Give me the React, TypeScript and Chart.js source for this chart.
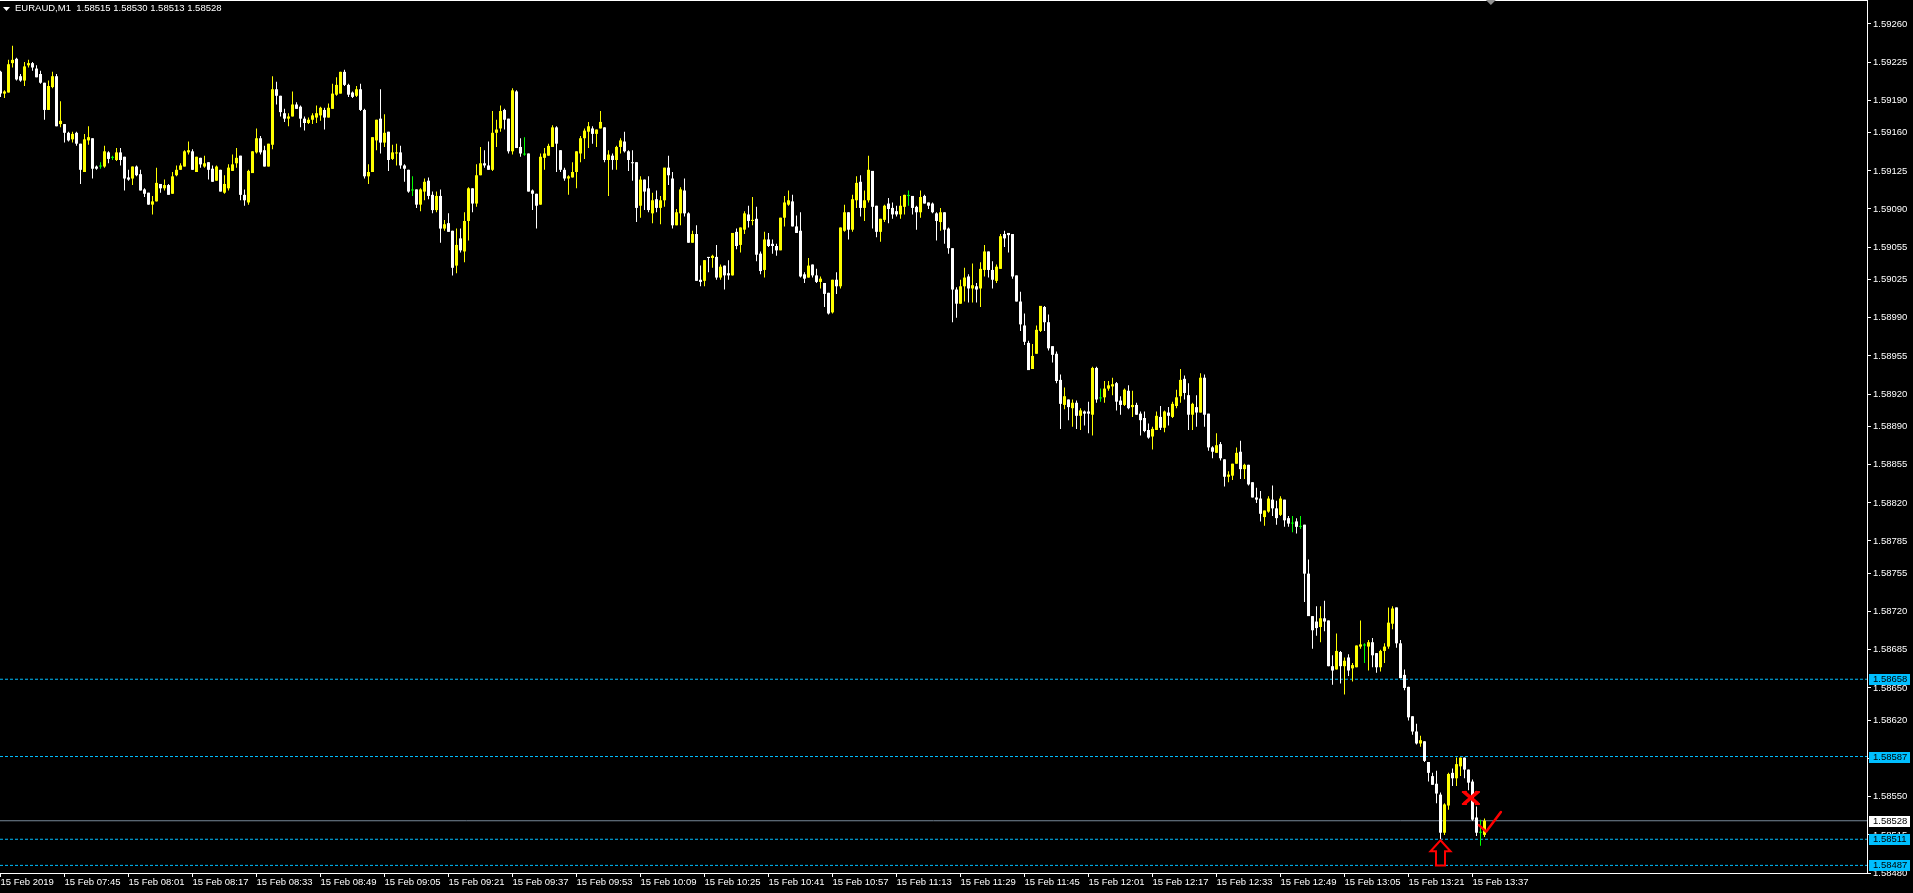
import React, { useEffect, useRef } from "react";
import { Chart, registerables } from "chart.js";

Chart.register(...registerables);

// ---------- DATA (prices in units of 0.00001 above 1.00000, e.g. 59216 = 1.59216) ----------
const symbolName = "EURAUD,M1";

const opens = [
  59216,59196,59197,59224,59228,59212,59208,59222,59224,59219,
  59214,59206,59181,59202,59212,59168,59168,59160,59154,59160,
  59150,59124,59153,59155,59129,59129,59129,59142,59137,59135,
  59142,59138,59119,59118,59129,59122,59108,59105,59094,59097,
  59113,59109,59112,59104,59121,59126,59129,59142,59143,59124,
  59137,59129,59133,59127,59116,59126,59105,59109,59125,59132,
  59139,59103,59096,59123,59142,59155,59144,59129,59149,59200,
  59194,59178,59173,59175,59186,59184,59173,59169,59172,59174,
  59176,59181,59174,59182,59195,59196,59216,59204,59197,59194,
  59200,59181,59120,59124,59153,59173,59151,59161,59136,59141,
  59142,59130,59126,59107,59108,59094,59106,59116,59103,59089,
  59102,59072,59077,59070,59038,59063,59051,59079,59109,59095,
  59121,59132,59130,59126,59160,59164,59181,59173,59143,59198,
  59147,59140,59141,59107,59104,59094,59137,59139,59147,59165,
  59144,59126,59118,59119,59124,59141,59155,59161,59164,59159,
  59164,59165,59135,59139,59135,59147,59152,59143,59133,59133,
  59093,59117,59109,59086,59099,59091,59098,59128,59118,59075,
  59086,59107,59086,59059,59067,59025,59024,59046,59045,59046,
  59027,59038,59031,59029,59069,59057,59071,59085,59079,59081,
  59049,59034,59062,59058,59056,59052,59082,59094,59097,59074,
  59070,59030,59027,59039,59029,59023,59022,59013,58995,59025,
  59019,59070,59087,59071,59098,59115,59091,59098,59125,59093,
  59069,59080,59095,59091,59088,59085,59092,59102,59102,59092,
  59087,59102,59096,59095,59086,59078,59087,59072,59054,59016,
  59003,59019,59028,59017,59019,59017,59034,59051,59034,59024,
  59035,59067,59068,59067,59029,59005,58983,58967,58943,58957,
  58978,59000,58986,58964,58957,58933,58910,58915,58907,58912,
  58900,58904,58904,58901,58944,58916,58917,58925,58927,58930,
  58914,58910,58923,58908,58910,58902,58898,58887,58881,58887,
  58899,58889,58903,58899,58909,58918,58934,58919,58901,58908,
  58903,58935,58902,58871,58866,58874,58860,58844,58845,58856,
  58867,58851,58855,58839,58825,58824,58807,58812,58823,58815,
  58809,58823,58806,58801,58803,58798,58800,58755,58716,58711,
  58706,58714,58712,58670,58667,58683,58670,58678,58668,58669,
  58688,58689,58688,58692,58682,58669,58684,58688,58709,58724,
  58691,58662,58651,58624,58610,58599,58601,58582,58569,58562,
  58552,58517,58542,58572,58567,58578,58586,58575,58564,58531,
  58517,58515,
];

const highs = [
  59217,59199,59227,59240,59229,59214,59225,59227,59225,59222,
  59217,59206,59208,59216,59214,59189,59168,59161,59161,59161,
  59150,59159,59166,59155,59130,59133,59148,59143,59139,59146,
  59146,59138,59126,59129,59130,59126,59109,59105,59102,59128,
  59113,59117,59113,59124,59130,59132,59144,59152,59145,59138,
  59137,59139,59133,59130,59130,59126,59121,59131,59140,59146,
  59139,59108,59126,59143,59164,59157,59148,59150,59212,59207,
  59194,59182,59178,59198,59188,59185,59175,59174,59178,59185,
  59184,59183,59187,59205,59211,59216,59218,59205,59198,59203,
  59205,59182,59131,59156,59172,59200,59177,59161,59149,59150,
  59148,59131,59126,59120,59108,59109,59118,59119,59106,59106,
  59108,59080,59086,59070,59072,59072,59087,59110,59109,59131,
  59147,59144,59152,59180,59172,59185,59182,59173,59201,59199,
  59155,59156,59141,59108,59104,59141,59146,59150,59167,59166,
  59144,59128,59121,59133,59143,59157,59164,59170,59166,59163,
  59180,59165,59144,59141,59148,59155,59161,59144,59144,59133,
  59120,59117,59120,59105,59107,59102,59128,59139,59124,59090,
  59110,59118,59087,59070,59075,59038,59043,59046,59048,59057,
  59039,59038,59043,59068,59072,59073,59088,59093,59101,59092,
  59051,59069,59068,59062,59058,59082,59102,59107,59103,59084,
  59087,59032,59045,59039,59035,59028,59022,59013,59025,59032,
  59073,59094,59087,59103,59120,59121,59107,59139,59125,59093,
  59081,59094,59100,59096,59093,59102,59103,59107,59102,59093,
  59107,59103,59096,59096,59087,59091,59087,59073,59054,59018,
  59025,59036,59030,59040,59022,59041,59057,59051,59042,59039,
  59067,59070,59068,59067,59029,59014,58994,58969,58966,58983,
  59001,59001,58993,58964,58959,58938,58926,58915,58915,58914,
  58907,58905,58913,58945,58945,58925,58932,58932,58935,58931,
  58918,58925,58928,58923,58912,58904,58904,58893,58890,58904,
  58909,58905,58908,58913,58924,58943,58937,58930,58912,58919,
  58939,58938,58902,58872,58884,58876,58860,58849,58856,58871,
  58877,58856,58855,58839,58834,58831,58813,58826,58836,58822,
  58826,58823,58808,58808,58806,58808,58800,58768,58716,58725,
  58725,58730,58712,58680,58700,58684,58678,58681,58673,58689,
  58712,58691,58694,58696,58682,58685,58691,58724,58725,58724,
  58694,58667,58651,58624,58617,58606,58601,58582,58572,58574,
  58554,58544,58572,58576,58586,58586,58586,58575,58566,58541,
  58529,58530,
];

const lows = [
  59193,59192,59197,59220,59208,59207,59203,59220,59217,59211,
  59205,59172,59181,59201,59166,59165,59151,59152,59151,59148,
  59113,59124,59149,59118,59126,59127,59128,59132,59135,59134,
  59130,59107,59116,59112,59120,59107,59101,59094,59085,59097,
  59105,59107,59103,59104,59120,59126,59129,59140,59126,59124,
  59128,59128,59117,59115,59116,59106,59104,59107,59125,59128,
  59098,59093,59094,59123,59141,59140,59129,59129,59145,59186,
  59175,59170,59166,59175,59182,59165,59162,59168,59168,59169,
  59171,59163,59174,59182,59194,59196,59203,59193,59192,59193,
  59180,59118,59113,59124,59144,59141,59147,59125,59135,59130,
  59127,59115,59105,59102,59091,59088,59098,59099,59086,59087,
  59059,59070,59069,59029,59031,59050,59041,59061,59087,59092,
  59121,59128,59126,59125,59147,59161,59163,59141,59140,59146,
  59138,59139,59106,59089,59072,59094,59126,59139,59147,59124,
  59124,59116,59103,59119,59109,59133,59136,59146,59150,59147,
  59164,59133,59102,59126,59126,59141,59142,59125,59116,59078,
  59082,59089,59087,59077,59087,59076,59092,59112,59072,59075,
  59075,59083,59059,59059,59024,59019,59019,59032,59036,59025,
  59025,59016,59025,59029,59053,59050,59067,59073,59075,59042,
  59030,59027,59055,59049,59047,59052,59074,59093,59074,59068,
  59027,59022,59027,59027,59022,59017,59000,58993,58994,59012,
  59017,59069,59062,59069,59091,59083,59079,59096,59072,59064,
  59060,59078,59077,59081,59083,59081,59085,59093,59085,59071,
  59082,59095,59090,59086,59061,59070,59058,59049,58986,58990,
  59003,59005,59004,59004,59004,59000,59028,59027,59017,59022,
  59035,59055,59050,59026,59005,58978,58965,58942,58943,58957,
  58977,58978,58960,58949,58930,58888,58906,58896,58890,58888,
  58887,58891,58884,58882,58912,58913,58912,58923,58919,58905,
  58901,58909,58906,58899,58901,58882,58885,58879,58869,58887,
  58887,58885,58891,58898,58907,58912,58915,58887,58887,58890,
  58903,58890,58868,58861,58866,58859,58835,58839,58841,58856,
  58842,58842,58836,58825,58820,58803,58799,58811,58808,58800,
  58808,58798,58798,58793,58792,58796,58729,58716,58686,58698,
  58692,58702,58670,58653,58667,58654,58644,58661,58656,58669,
  58686,58673,58666,58669,58664,58665,58673,58686,58704,58687,
  58659,58648,58620,58607,58598,58596,58582,58564,58561,58544,
  58511,58515,58538,58560,58560,58569,58567,58556,58528,58514,
  58505,58513,
];

const closes = [
  59196,59198,59223,59227,59209,59208,59221,59224,59220,59211,
  59206,59181,59203,59212,59166,59171,59160,59153,59159,59150,
  59126,59154,59156,59127,59127,59129,59143,59136,59137,59142,
  59135,59118,59117,59129,59121,59107,59104,59094,59097,59114,
  59109,59112,59103,59120,59126,59130,59143,59144,59126,59138,
  59131,59132,59126,59115,59129,59106,59113,59128,59131,59137,
  59103,59098,59125,59143,59155,59142,59129,59150,59200,59194,
  59179,59173,59175,59186,59182,59173,59169,59172,59176,59178,
  59183,59174,59183,59196,59204,59216,59204,59195,59193,59200,
  59181,59120,59124,59156,59172,59151,59160,59135,59142,59142,
  59130,59127,59106,59107,59094,59108,59115,59102,59089,59102,
  59072,59076,59069,59036,59057,59052,59079,59109,59095,59121,
  59132,59130,59126,59160,59163,59180,59172,59143,59199,59146,
  59141,59140,59106,59104,59093,59138,59141,59148,59165,59150,
  59126,59118,59120,59124,59143,59155,59162,59166,59159,59163,
  59170,59135,59140,59135,59147,59153,59143,59135,59132,59091,
  59117,59106,59089,59098,59091,59098,59128,59121,59075,59087,
  59108,59086,59059,59067,59024,59023,59043,59045,59047,59027,
  59037,59029,59029,59068,59056,59073,59086,59079,59080,59048,
  59033,59062,59056,59056,59052,59082,59096,59098,59074,59068,
  59028,59026,59038,59029,59023,59026,59012,58994,59025,59019,
  59073,59087,59071,59099,59114,59091,59098,59126,59092,59069,
  59081,59093,59090,59085,59085,59093,59103,59102,59091,59087,
  59101,59095,59093,59087,59079,59087,59071,59054,59016,59003,
  59019,59027,59017,59020,59016,59035,59051,59034,59025,59037,
  59065,59063,59066,59028,59005,58984,58968,58942,58955,58979,
  59001,58986,58962,58956,58932,58911,58918,58908,58912,58900,
  58905,58902,58902,58944,58915,58916,58925,58928,58929,58913,
  58910,58924,58907,58910,58901,58896,58886,58880,58888,58900,
  58889,58904,58900,58911,58917,58933,58921,58901,58911,58903,
  58935,58901,58871,58867,58873,58861,58844,58846,58856,58866,
  58851,58855,58837,58825,58823,58810,58813,58824,58815,58806,
  58824,58804,58801,58801,58798,58798,58755,58716,58703,58705,
  58714,58711,58670,58666,58684,58670,58675,58666,58671,58689,
  58690,58689,58692,58680,58669,58684,58688,58710,58723,58691,
  58659,58650,58623,58610,58599,58602,58583,58572,58561,58553,
  58517,58543,58571,58567,58580,58586,58575,58563,58529,58517,
  58517,58528,
];

// time axis ticks (bar index -> label)
const timeTickBars = [0,16,32,48,64,80,96,112,128,144,160,176,192,208,224,240,256,272,288,304,320,336,352,368];
const timeTickLabels = [
  "15 Feb 2019","15 Feb 07:45","15 Feb 08:01","15 Feb 08:17","15 Feb 08:33","15 Feb 08:49",
  "15 Feb 09:05","15 Feb 09:21","15 Feb 09:37","15 Feb 09:53","15 Feb 10:09","15 Feb 10:25",
  "15 Feb 10:41","15 Feb 10:57","15 Feb 11:13","15 Feb 11:29","15 Feb 11:45","15 Feb 12:01",
  "15 Feb 12:17","15 Feb 12:33","15 Feb 12:49","15 Feb 13:05","15 Feb 13:21","15 Feb 13:37",
];

// price axis ticks
const priceTicks = [
  1.5926,1.59225,1.5919,1.5916,1.59125,1.5909,1.59055,1.59025,1.5899,1.58955,1.5892,1.5889,
  1.58855,1.5882,1.58785,1.58755,1.5872,1.58685,1.5865,1.5862,1.58585,1.5855,1.58515,1.5848,
];

// horizontal levels
const dashedLevels = [1.58658, 1.58587, 1.58511, 1.58487];
const bidLevel = 1.58528;

// hand-drawn marks (bar index, price)
const arrowMark = { bar: 360, tip: 1.58511, base: 1.58487 };
const crossMark = { bar: 367.6, price: 1.58549 };
const checkMarkBars = [369.6, 371.4, 375.1];
const checkMarkPrices = [1.58524, 1.58518, 1.58536];
const shiftMarkerBar = 372.6;

// axis ranges
const xMin = -0.125;
const xMax = 466.625;
const yMin = 1.5848;
const yMax = 1.59282;

// ---------- STYLE ----------
const FONT = '"Liberation Sans", Arial, sans-serif';
const BULL = "#FFFF00";
const BEAR = "#FFFFFF";
const DOJI = "#00FF00";
const LEVEL = "#00BFFF";
const BID = "#778899";

const P = (v: number) => 1 + v / 100000;

function buildConfig(): any {
  const colors = opens.map((o, i) => (closes[i] > o ? BULL : closes[i] < o ? BEAR : DOJI));
  const wickData = opens.map((_, i) => ({ x: i, y: [P(lows[i]), P(highs[i])] }));
  const bodyData = opens.map((o, i) => ({
    x: i,
    y: [P(Math.min(o, closes[i])), P(Math.max(o, closes[i]))],
  }));

  const levelDatasets = dashedLevels.map((lv) => ({
    type: "line",
    data: [{ x: xMin, y: lv }, { x: xMax, y: lv }],
    borderColor: LEVEL,
    borderWidth: 1,
    borderDash: [3, 2],
    pointRadius: 0,
    fill: false,
    order: 3,
  }));

  const overlay = {
    id: "mtOverlay",
    beforeDraw(chart: any) {
      const { ctx, width, height } = chart;
      ctx.save();
      ctx.fillStyle = "#000";
      ctx.fillRect(0, 0, width, height);
      ctx.restore();
    },
    afterDraw(chart: any) {
      const { ctx, chartArea } = chart;
      const xs = chart.scales.x;
      const ys = chart.scales.y;
      ctx.save();
      // top frame line
      ctx.strokeStyle = "#FFFFFF";
      ctx.lineWidth = 1;
      ctx.beginPath();
      ctx.moveTo(chartArea.left, chartArea.top + 0.5);
      ctx.lineTo(chartArea.right + 1, chartArea.top + 0.5);
      ctx.stroke();

      // price boxes on axis
      const boxes = [
        ...dashedLevels.map((v) => ({ v, bg: LEVEL })),
        { v: bidLevel, bg: "#FFFFFF" },
      ];
      ctx.font = `9.5px ${FONT}`;
      ctx.textBaseline = "middle";
      ctx.textAlign = "left";
      for (const b of boxes) {
        const py = Math.round(ys.getPixelForValue(b.v));
        const bx = chartArea.right + 2;
        ctx.fillStyle = b.bg;
        ctx.fillRect(bx, py - 5, 41, 11);
        ctx.fillStyle = "#000";
        ctx.fillText(b.v.toFixed(5), bx + 4, py + 0.5);
      }

      // title
      ctx.fillStyle = "#FFFFFF";
      ctx.beginPath();
      ctx.moveTo(3, 7);
      ctx.lineTo(10, 7);
      ctx.lineTo(6.5, 11);
      ctx.closePath();
      ctx.fill();
      const last = opens.length - 1;
      const titleText =
        `${symbolName}  ${P(opens[last]).toFixed(5)} ${P(highs[last]).toFixed(5)} ` +
        `${P(lows[last]).toFixed(5)} ${P(closes[last]).toFixed(5)}`;
      ctx.font = `9.5px ${FONT}`;
      ctx.textBaseline = "middle";
      ctx.fillText(titleText, 15, 8.5);

      // chart shift marker
      const sx = xs.getPixelForValue(shiftMarkerBar);
      ctx.fillStyle = "#909090";
      ctx.beginPath();
      ctx.moveTo(sx - 5, 0);
      ctx.lineTo(sx + 5, 0);
      ctx.lineTo(sx, 5);
      ctx.closePath();
      ctx.fill();

      // red hollow up arrow
      ctx.strokeStyle = "#FF0000";
      ctx.lineWidth = 2;
      ctx.lineJoin = "miter";
      const ax = xs.getPixelForValue(arrowMark.bar);
      const at = ys.getPixelForValue(arrowMark.tip) + 1;
      const ab = ys.getPixelForValue(arrowMark.base);
      const headY = at + 11;
      ctx.beginPath();
      ctx.moveTo(ax, at);
      ctx.lineTo(ax + 10, headY);
      ctx.lineTo(ax + 4.5, headY);
      ctx.lineTo(ax + 4.5, ab);
      ctx.lineTo(ax - 4.5, ab);
      ctx.lineTo(ax - 4.5, headY);
      ctx.lineTo(ax - 10, headY);
      ctx.closePath();
      ctx.stroke();

      // red cross
      const cx = xs.getPixelForValue(crossMark.bar);
      const cy = ys.getPixelForValue(crossMark.price);
      ctx.lineWidth = 3.5;
      ctx.lineCap = "butt";
      ctx.beginPath();
      ctx.moveTo(cx - 7, cy - 6);
      ctx.lineTo(cx + 7, cy + 6);
      ctx.moveTo(cx + 7, cy - 6);
      ctx.lineTo(cx - 7, cy + 6);
      ctx.stroke();
      ctx.lineWidth = 2;
      ctx.beginPath();
      ctx.moveTo(cx - 9, cy - 6); ctx.lineTo(cx - 4, cy - 6);
      ctx.moveTo(cx + 4, cy - 6); ctx.lineTo(cx + 9, cy - 6);
      ctx.moveTo(cx - 9, cy + 6); ctx.lineTo(cx - 4, cy + 6);
      ctx.moveTo(cx + 4, cy + 6); ctx.lineTo(cx + 9, cy + 6);
      ctx.stroke();

      // red check mark
      ctx.lineWidth = 2.5;
      ctx.lineJoin = "round";
      ctx.lineCap = "round";
      ctx.beginPath();
      checkMarkBars.forEach((b, i) => {
        const px = xs.getPixelForValue(b);
        const py = ys.getPixelForValue(checkMarkPrices[i]);
        if (i === 0) ctx.moveTo(px, py);
        else ctx.lineTo(px, py);
      });
      ctx.stroke();
      ctx.restore();
    },
  };

  return {
    type: "bar",
    data: {
      datasets: [
        {
          type: "bar",
          data: bodyData,
          backgroundColor: colors,
          borderWidth: 0,
          barThickness: 3,
          minBarLength: 1,
          grouped: false,
          inflateAmount: 0,
          order: 0,
        },
        {
          type: "bar",
          data: wickData,
          backgroundColor: colors,
          borderWidth: 0,
          barThickness: 1,
          grouped: false,
          inflateAmount: 0,
          order: 1,
        },
        {
          type: "line",
          data: [{ x: xMin, y: bidLevel }, { x: xMax, y: bidLevel }],
          borderColor: BID,
          borderWidth: 1,
          pointRadius: 0,
          fill: false,
          order: 3,
        },
        ...levelDatasets,
      ],
    },
    options: {
      responsive: false,
      maintainAspectRatio: false,
      animation: false,
      events: [],
      layout: { padding: 0 },
      plugins: {
        legend: { display: false },
        tooltip: { enabled: false },
        title: { display: false },
      },
      scales: {
        x: {
          type: "linear",
          position: "bottom",
          min: xMin,
          max: xMax,
          offset: false,
          afterBuildTicks: (s: any) => {
            s.ticks = timeTickBars.map((v) => ({ value: v }));
          },
          afterFit: (s: any) => {
            s.height = 20;
            s.paddingLeft = 0;
            s.paddingRight = 0;
          },
          ticks: {
            autoSkip: false,
            maxRotation: 0,
            minRotation: 0,
            align: "start",
            padding: 0,
            color: "#FFFFFF",
            font: { family: FONT, size: 9.5 },
            callback: (_v: any, idx: number) => timeTickLabels[idx] ?? "",
          },
          grid: {
            offset: false,
            drawOnChartArea: false,
            drawTicks: true,
            tickLength: 4,
            color: "#FFFFFF",
            lineWidth: 1,
          },
          border: { display: true, color: "#FFFFFF", width: 1 },
        },
        y: {
          type: "linear",
          position: "right",
          min: yMin,
          max: yMax,
          beginAtZero: false,
          afterBuildTicks: (s: any) => {
            s.ticks = priceTicks.map((v) => ({ value: v }));
          },
          afterFit: (s: any) => {
            s.width = 46;
            s.paddingTop = 0;
            s.paddingBottom = 0;
          },
          ticks: {
            autoSkip: false,
            padding: 2,
            color: "#FFFFFF",
            font: { family: FONT, size: 9.5 },
            callback: (v: any) => Number(v).toFixed(5),
          },
          grid: {
            drawOnChartArea: false,
            drawTicks: true,
            tickLength: 4,
            color: "#FFFFFF",
            lineWidth: 1,
          },
          border: { display: true, color: "#FFFFFF", width: 1 },
        },
      },
    },
    plugins: [overlay],
  };
}

export default function App() {
  const ref = useRef<HTMLCanvasElement>(null);
  useEffect(() => {
    const canvas = ref.current;
    if (!canvas) return;
    const chart = new Chart(canvas, buildConfig());
    return () => chart.destroy();
  }, []);
  return (
    <div
      style={{
        position: "fixed",
        left: 0,
        top: 0,
        width: 1913,
        height: 893,
        background: "#000",
        overflow: "hidden",
      }}
    >
      <canvas ref={ref} width={1913} height={893} style={{ display: "block", width: 1913, height: 893 }} />
    </div>
  );
}
